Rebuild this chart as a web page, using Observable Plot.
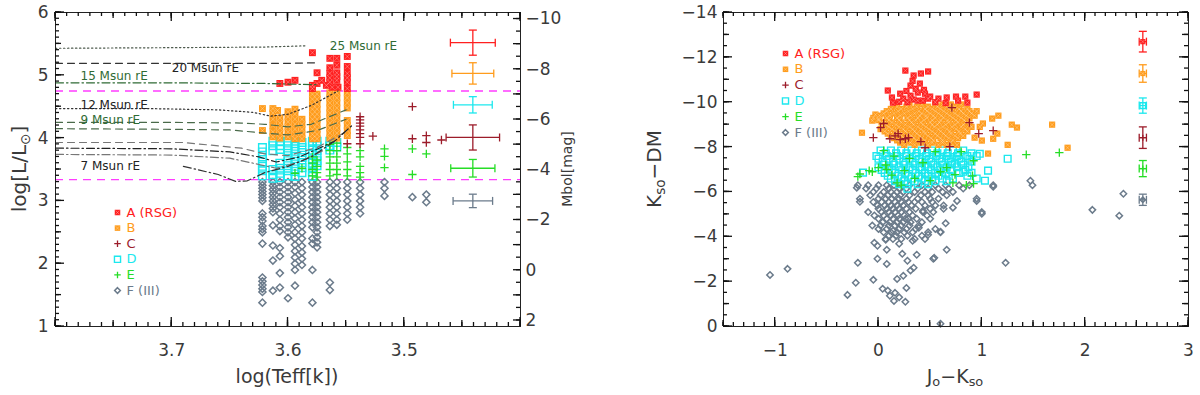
<!DOCTYPE html>
<html><head><meta charset="utf-8">
<script src="https://cdn.jsdelivr.net/npm/d3@7"></script>
<script src="https://cdn.jsdelivr.net/npm/@observablehq/plot@0.6"></script>
<style>
body{margin:0;background:#fff;}
#wrap{display:flex;width:1200px;height:395px;overflow:hidden;}
#wrap svg{display:block;flex:0 0 600px;}
</style></head><body><div id="wrap"></div>
<script>
// ---------------- DATA ----------------
const groups = ["A","B","C","D","E","F"];
const groupLabels = ["A (RSG)","B","C","D","E","F (III)"];
const COLORS = {A:"#ff2020", B:"#ff9c1c", C:"#9c1c2a", D:"#1ce8ee", E:"#26dd26", F:"#6b7b8b"};

// Left panel (HR diagram): columns [logTeff, [logL ...]]
const hrA = [
 [3.607,[4.87]],[3.600,[4.89]],[3.594,[4.92]],
 [3.579,[5.36,4.84,4.79]],[3.575,[5.04,4.87]],[3.571,[4.92]],[3.567,[4.84]],
 [3.564,[5.27,5.12,5.03,4.96,4.89]],[3.562,[4.81]],
 [3.558,[5.27,5.16,5.04,4.98,4.92]],[3.557,[4.81]],
 [3.549,[5.30,5.14,5.03,4.96,4.89,4.79]]
];
const hrB = [
 [3.622,[4.47,4.12]],
 [3.613,[4.47,4.40,4.30,4.20,4.10,4.02]],
 [3.609,[4.44]],
 [3.607,[4.32,4.24,4.16,4.08,4.00]],
 [3.600,[4.42,4.34,4.26,4.18,4.10,4.02]],
 [3.594,[4.46,4.38,4.30,4.22,4.14,4.06,3.99]],
 [3.588,[4.30,4.22,4.14,4.06,3.99]],
 [3.579,[4.70,4.62,4.54,4.46,4.38,4.30,4.22,4.14,4.06,3.99]],
 [3.575,[4.70,4.62,4.54,4.46,4.38,4.30,4.22,4.14,4.06,3.99]],
 [3.564,[4.72,4.64,4.56,4.48,4.40,4.32,4.24,4.16,4.08,4.00]],
 [3.558,[4.72,4.64,4.56,4.48,4.40,4.32,4.24,4.16,4.08,4.00]],
 [3.549,[4.72,4.64,4.56,4.48,4.28,4.20,4.12,4.04]]
];
const hrC = [
 [3.549,[3.91]],
 [3.538,[4.34,4.29,4.24,4.19,4.13,4.07,4.01,3.91]],
 [3.527,[4.03]],
 [3.493,[4.50,3.99]],
 [3.481,[4.04,3.93]],
 [3.468,[3.97]]
];
const hrD = [
 [3.622,[3.85,3.78,3.70,3.62,3.55,3.48,3.40]],
 [3.613,[3.95,3.88,3.80,3.50,3.42,3.36]],
 [3.607,[3.95,3.88,3.82,3.60,3.52,3.44,3.37]],
 [3.600,[3.95,3.88,3.80,3.72,3.64,3.56,3.48,3.40]],
 [3.594,[3.95,3.87,3.79,3.71,3.63,3.55,3.47,3.39]],
 [3.588,[3.93,3.85,3.77,3.69,3.61,3.53,3.45]],
 [3.579,[3.95,3.88,3.81,3.74,3.67,3.60,3.53,3.46,3.39]],
 [3.575,[3.95,3.88,3.80,3.72,3.64,3.56]],
 [3.564,[3.95,3.88,3.81]],
 [3.558,[3.93,3.86]]
];
const hrE = [
 [3.594,[3.44]],[3.588,[3.52]],
 [3.579,[3.70,3.60,3.50,3.40]],
 [3.575,[3.65,3.55,3.45,3.38]],
 [3.564,[3.90,3.80,3.70,3.60,3.50,3.40]],
 [3.558,[3.92,3.80,3.70,3.60,3.50,3.42]],
 [3.549,[3.85,3.75,3.62,3.50,3.40]],
 [3.538,[3.80,3.70,3.55,3.45,3.38]],
 [3.517,[3.83,3.71,3.53]],
 [3.493,[3.83,3.42]],
 [3.481,[3.75]]
];
const hrF = [
 [3.622,[3.30,3.25,3.20,3.15,3.10,3.05,3.00,2.80,2.74,2.68,2.60,2.55,2.50,2.32,1.78,1.72,1.66,1.60,1.55,1.38]],
 [3.613,[3.30,3.24,3.18,3.12,3.06,3.00,2.94,2.88,2.82,2.61,2.29,2.05,1.57]],
 [3.607,[3.30,3.22,3.14,3.06,2.98,2.90,2.80,2.70,2.60,2.52,2.25,2.12,1.85,1.62]],
 [3.600,[3.30,3.22,3.14,3.06,2.98,2.90,2.82,2.74,2.66,2.58,2.50,2.42,1.45]],
 [3.594,[3.30,3.22,3.12,3.02,2.92,2.82,2.72,2.62,2.50,2.40,2.30,2.20,2.10,2.00,1.90,1.65]],
 [3.588,[3.30,3.20,3.10,3.00,2.90,2.80,2.70,2.60,2.50,2.40,2.28,2.18,2.08,1.98]],
 [3.579,[3.30,3.22,3.14,3.06,2.98,2.90,2.82,2.74,2.66,2.58,2.40,2.32,1.90,1.38]],
 [3.575,[3.30,3.22,3.14,3.06,2.98,2.90,2.82,2.74,2.66,2.58,2.50,2.42,2.34,2.26]],
 [3.564,[3.30,3.20,3.10,3.00,2.90,2.80,2.70,2.60,1.70,1.58]],
 [3.558,[3.30,3.20,3.10,3.00,2.90,2.80,2.70,2.62]],
 [3.549,[3.30,3.20,3.10,3.00,2.90,2.80,2.70]],
 [3.538,[3.30,3.20,3.10,3.00,2.90,2.80]],
 [3.517,[3.30,3.20,3.08]],
 [3.493,[3.06]],
 [3.481,[3.10,2.98]]
];

// evolutionary tracks [logTeff, logL]
const track25 = [[3.80,5.43],[3.70,5.44],[3.62,5.45],[3.584,5.47]];
const track20 = [[3.80,5.19],[3.70,5.19],[3.60,5.19],[3.574,5.20]];
const track15 = [[3.80,4.88],[3.70,4.88],[3.62,4.87],[3.60,4.86],[3.575,4.85]];
const track12 = [[3.80,4.47],[3.72,4.47],[3.66,4.45],[3.63,4.41],[3.615,4.35],[3.60,4.38],[3.58,4.52],[3.557,4.75]];
const track9a = [[3.80,4.25],[3.70,4.25],[3.64,4.24],[3.62,4.22],[3.60,4.18],[3.58,4.22],[3.55,4.45]];
const track9b = [[3.80,4.15],[3.70,4.14],[3.65,4.13],[3.62,4.08],[3.60,4.05],[3.575,4.12],[3.55,4.30]];
const track8a = [[3.80,3.93],[3.69,3.93],[3.64,3.84],[3.62,3.75],[3.60,3.72],[3.575,3.85],[3.55,4.10]];
const track8b = [[3.80,3.84],[3.70,3.83],[3.65,3.78],[3.625,3.70],[3.61,3.62],[3.59,3.70],[3.56,3.95],[3.545,4.20]];
const track8c = [[3.80,3.74],[3.70,3.73],[3.65,3.68],[3.625,3.58],[3.61,3.52],[3.59,3.62],[3.57,3.80]];
const track7 = [[3.69,3.55],[3.66,3.42],[3.645,3.31],[3.635,3.32],[3.62,3.45],[3.60,3.55],[3.58,3.70],[3.56,3.95]];
const trackLabelText = ["25 Msun rE","20 Msun rE","15 Msun rE","12 Msun rE","9 Msun rE","7 Msun rE"];
const trackLabelT = [3.564,3.700,3.7785,3.7785,3.7785,3.7785];
const trackLabelL = [5.47,5.12,4.98,4.52,4.28,3.56];
const trackLabelColor = ["#2f6b35","#222","#2f6b35","#222","#2f6b35","#222"];
const magentaLevels = [4.75, 3.34];

// HR error bars
const hrErrGroup = ["A","B","D","C","E","F"];
const hrErrLogT = 3.441;
const hrErrLogL = [5.52,5.03,4.53,4.01,3.52,3.00];
const hrErrDT = [0.0193,0.018,0.0167,0.023,0.019,0.017];
const hrErrDL = [0.20,0.17,0.13,0.20,0.14,0.107];

// Right panel (colour-magnitude): pairs [J0-Ks0, Ks0-DM]
const cmdA = [[0.26,-11.41],[0.34,-11.19],[0.41,-11.28],[0.48,-11.37],[0.31,-10.74],[0.40,-10.83],[0.09,-10.52],[0.21,-10.38],[0.13,-10.21],[0.31,-10.29],[0.38,-10.43],[0.45,-10.38],[0.50,-10.25],[0.24,-10.16],[0.34,-10.12],[0.43,-10.07],[0.48,-10.16],[0.58,-10.16],[0.66,-10.21],[0.75,-10.25],[0.84,-10.25],[0.95,-10.34],[0.86,-9.98],[0.77,-10.07],[0.14,-9.98],[0.38,-10.07],[0.36,-10.60],[0.28,-10.00],[0.44,-10.55],[0.20,-10.02],[0.55,-10.00],[0.65,-9.96],[0.33,-10.95],[0.27,-10.50]];
// orange blob rows [Ks0-DM, [J0-Ks0 ...]]
const cmdBrows = [
 [-9.9,[0.30,0.42,0.55,0.62,0.70,0.80]],
 [-9.8,[0.18,0.27,0.37,0.48,0.57,0.66,0.74]],
 [-9.7,[0.12,0.22,0.33,0.45,0.52,0.60,0.68,0.78,0.86]],
 [-9.6,[0.08,0.19,0.29,0.39,0.47,0.55,0.63,0.71,0.80,0.88]],
 [-9.5,[0.05,0.15,0.25,0.35,0.42,0.50,0.58,0.66,0.74,0.82,0.90]],
 [-9.4,[0.01,0.11,0.21,0.31,0.40,0.46,0.53,0.61,0.69,0.77,0.85,0.93]],
 [-9.3,[-0.05,0.08,0.18,0.28,0.38,0.47,0.55,0.63,0.72,0.80,0.88]],
 [-9.2,[0.00,0.10,0.20,0.30,0.36,0.44,0.52,0.60,0.67,0.75,0.83]],
 [-9.1,[0.03,0.13,0.22,0.32,0.41,0.50,0.59,0.68,0.77,0.85]],
 [-9.0,[0.07,0.17,0.26,0.34,0.43,0.52,0.57,0.65,0.74,0.82,0.88]],
 [-8.9,[0.10,0.20,0.30,0.38,0.46,0.54,0.62,0.71,0.80,0.90]],
 [-8.8,[0.02,0.13,0.24,0.33,0.41,0.49,0.58,0.66,0.75,0.84]],
 [-8.7,[0.06,0.16,0.26,0.35,0.44,0.52,0.60,0.69,0.78,0.86]],
 [-8.6,[0.09,0.19,0.29,0.37,0.45,0.55,0.63,0.70,0.79]],
 [-8.5,[0.12,0.22,0.32,0.40,0.48,0.57,0.65,0.74,0.82]],
 [-8.4,[0.15,0.25,0.34,0.42,0.51,0.60,0.68,0.77]],
 [-8.3,[0.18,0.28,0.37,0.45,0.53,0.62,0.72]],
 [-8.2,[0.21,0.31,0.41,0.52,0.62,0.70]],
 [-8.1,[0.25,0.35,0.48,0.58,0.66,0.76]]
];
const cmdBextra = [[-0.06,-9.18],[-0.16,-8.64],[0.0,-9.25],[-0.03,-9.45],[1.01,-9.05],[1.10,-9.27],[1.16,-9.40],[1.29,-9.00],[1.34,-8.87],[1.68,-9.00],[1.83,-7.97],[1.06,-7.71],[1.25,-8.10],[0.93,-8.42],[1.00,-8.29],[1.11,-8.37],[1.15,-8.60],[0.95,-9.60],[0.98,-8.90]];
const cmdC = [[0.71,-9.76],[0.88,-9.09],[0.02,-8.87],[0.05,-9.05],[-0.05,-8.42],[0.11,-8.37],[0.19,-8.60],[0.21,-8.33],[0.29,-8.42],[0.41,-8.24],[0.45,-7.97],[0.69,-8.02],[0.97,-8.60],[1.11,-8.73],[0.26,-8.37],[0.16,-8.50]];
const cmdDrows = [
 [-7.85,[0.02,0.12,0.22,0.32,0.42,0.52,0.62,0.72,0.82]],
 [-7.72,[0.07,0.17,0.27,0.37,0.47,0.57,0.67,0.77,0.90]],
 [-7.6,[-0.02,0.08,0.18,0.27,0.36,0.46,0.56,0.66,0.76,0.86,0.95]],
 [-7.48,[0.00,0.10,0.20,0.30,0.39,0.49,0.59,0.68,0.78,0.88]],
 [-7.35,[0.04,0.14,0.24,0.33,0.42,0.51,0.61,0.70,0.80,0.90]],
 [-7.22,[0.05,0.15,0.25,0.35,0.45,0.53,0.62,0.71,0.82]],
 [-7.1,[0.00,0.10,0.20,0.30,0.40,0.48,0.57,0.66,0.76,0.87]],
 [-6.98,[0.03,0.13,0.23,0.33,0.42,0.51,0.60,0.70,0.84]],
 [-6.85,[0.06,0.16,0.26,0.36,0.45,0.55,0.65,0.78,0.90]],
 [-6.72,[0.09,0.19,0.29,0.39,0.48,0.58,0.68,0.86]],
 [-6.6,[0.12,0.22,0.32,0.42,0.52,0.62,0.72]],
 [-6.48,[0.16,0.25,0.35,0.45,0.55,0.66]],
 [-6.35,[0.20,0.28,0.38,0.48]]
];
const cmdDextra = [[1.25,-7.48],[1.06,-6.95],[1.03,-6.50],[-0.15,-6.86],[0.28,-6.14],[0.82,-6.90],[0.74,-7.26],[0.98,-7.70],[0.95,-6.60]];
const cmdE = [[-0.20,-6.68],[-0.06,-6.90],[0.00,-7.08],[0.07,-7.20],[0.05,-7.84],[0.13,-6.75],[0.43,-7.30],[0.66,-7.08],[0.74,-6.77],[0.92,-7.39],[0.91,-6.72],[0.92,-6.37],[1.43,-7.66],[1.75,-7.75],[-0.18,-6.80],[-0.09,-6.95],[0.08,-7.00],[0.18,-6.40],[0.22,-6.30],[0.72,-6.40],[0.85,-6.30],[0.30,-7.50],[0.55,-7.80],[0.35,-6.60],[0.60,-6.90],[0.15,-7.60],[0.80,-7.80],[0.50,-6.50],[0.25,-6.95]];
const cmdFrows = [
 [-6.3,[-0.20,-0.10,0.00,0.08,0.15,0.30,0.42,0.55,0.65,0.78,0.88,1.11,1.49]],
 [-6.15,[-0.12,-0.02,0.10,0.20,0.27,0.38,0.48,0.58,0.68,0.82]],
 [-6.0,[-0.05,0.05,0.12,0.18,0.24,0.35,0.45,0.52,0.62,0.72]],
 [-5.85,[-0.08,0.02,0.09,0.15,0.21,0.30,0.41,0.48,0.66]],
 [-5.7,[-0.18,0.00,0.07,0.13,0.20,0.27,0.38,0.50,0.58,0.95]],
 [-5.55,[-0.05,0.03,0.10,0.16,0.22,0.29,0.35,0.42,0.52]],
 [-5.4,[-0.01,0.06,0.12,0.18,0.24,0.32,0.45,0.55,0.63]],
 [-5.25,[0.00,0.08,0.14,0.20,0.27,0.36,0.50]],
 [-5.1,[-0.10,0.03,0.10,0.16,0.22,0.30,0.43,0.53,1.00]],
 [-4.95,[-0.04,0.05,0.12,0.19,0.25,0.33,0.47]],
 [-4.8,[0.00,0.08,0.14,0.20,0.26,0.29,0.37,0.50]],
 [-4.65,[0.04,0.11,0.18,0.24,0.31,0.42]],
 [-4.5,[-0.06,0.02,0.10,0.16,0.22,0.30,0.39]],
 [-4.35,[0.00,0.08,0.20,0.27,0.36,0.55]],
 [-4.2,[0.05,0.12,0.18,0.25,0.33,0.48,0.60]],
 [-4.05,[0.10,0.17,0.28,0.42]],
 [-3.9,[0.07,0.14,0.22,0.35,0.45]]
];
const cmdFextra = [[-0.30,-1.41],[-0.22,-1.95],[-0.20,-2.84],[-0.21,-6.19],[-0.18,-5.56],[-0.05,-2.08],[-0.01,-3.02],[0.08,-2.79],[0.04,-1.68],[0.11,-1.37],[0.15,-1.14],[0.26,-1.10],[0.18,-2.12],[0.24,-2.26],[0.27,-1.72],[0.23,-3.24],[0.28,-2.93],[0.34,-2.62],[0.37,-3.20],[0.53,-3.02],[0.66,-3.42],[0.60,-4.22],[0.48,-4.09],[0.39,-4.40],[0.33,-3.82],[0.20,-3.69],[0.08,-3.42],[-0.01,-3.60],[-0.04,-3.73],[0.07,-3.87],[0.14,-4.27],[0.76,-5.60],[0.95,-5.60],[1.00,-5.03],[1.23,-2.84],[2.07,-5.20],[2.33,-4.94],[2.37,-5.92],[0.60,-0.12],[0.54,-3.06],[0.31,-2.50],[0.16,-1.50],[0.20,-1.30],[0.09,-1.60],[0.65,-4.60],[0.72,-5.30],[-1.05,-2.30],[-0.88,-2.57],[1.47,-6.50],[1.11,-6.23],[0.43,-5.16],[0.63,-5.25]];

// CMD error bars
const cmdErrGroup = ["A","B","D","C","E","F"];
const cmdErrColor = 2.558;
const cmdErrMag = [-12.70,-11.28,-9.85,-8.42,-7.04,-5.65];
const cmdErrDM = [0.46,0.39,0.34,0.48,0.36,0.25];
const cmdErrDC = [0.035,0.035,0.035,0.035,0.035,0.035];

// tick labels
const hrXLabels = [3.7,3.6,3.5];
const hrYLabels = [1,2,3,4,5,6];
const mbolLabels = [-10,-8,-6,-4,-2,0,2];
const cmdXLabels = [-1,0,1,2,3];
const cmdYLabels = [-14,-12,-10,-8,-6,-4,-2,0];

// ---------------- HELPERS ----------------
const FONT = "DejaVu Sans";
const TXT = "#3a3a3a";
const fromCols = cols => cols.flatMap(([x, ys]) => ys.map(y => ({x, y})));
const fromRows = rows => rows.flatMap(([y, xs]) => xs.map(x => ({x, y})));
const fromPairs = ps => ps.map(([x, y]) => ({x, y}));
const fmtInt = d => { const r = Math.round(d); return r < 0 ? "\u2212" + (-r) : String(r); };
const range = (a, b, s) => d3.range(Math.round(a / s), Math.round(b / s) + 1).map(i => +(i * s).toFixed(4));

const capV = {draw(ctx, size) { const r = Math.sqrt(size / Math.PI); ctx.moveTo(0, -r); ctx.lineTo(0, r); }};
const capH = {draw(ctx, size) { const r = Math.sqrt(size / Math.PI); ctx.moveTo(-r, 0); ctx.lineTo(r, 0); }};

function groupMarks(data, g, s, extra = {}) {
  const c = COLORS[g];
  const pos = data ? {x: "x", y: "y"} : {};
  const d = data || [0];
  if (g === "A" || g === "B") return [
    Plot.dot(d, {...pos, ...extra, symbol: "square", fill: c, r: 3.9 * s}),
    Plot.dot(d, {...pos, ...extra, symbol: "times", stroke: "#fff", strokeOpacity: 0.35, strokeWidth: 0.8, r: 2.4 * s})
  ];
  if (g === "C" || g === "E") return [Plot.dot(d, {...pos, ...extra, symbol: "plus", stroke: c, strokeWidth: 1.3, r: 2.8 * s})];
  if (g === "D") return [Plot.dot(d, {...pos, ...extra, symbol: "square", fill: "none", stroke: c, strokeWidth: 1.4, r: 4.3 * s})];
  return [Plot.dot(d, {...pos, ...extra, symbol: "diamond2", fill: "none", stroke: c, strokeWidth: 1.5, r: 3.2 * s})];
}

function legendMarks(s, dx0, dy0, step) {
  return groups.flatMap((g, i) => [
    ...groupMarks(null, g, s, {frameAnchor: "top-left", dx: dx0, dy: dy0 + i * step}),
    Plot.text([groupLabels[i]], {frameAnchor: "top-left", dx: dx0 + 9, dy: dy0 + i * step, text: d => d, fill: COLORS[g], textAnchor: "start", lineAnchor: "middle", fontSize: 13, fontFamily: FONT})
  ]);
}

function errMarks(rows, symbolScale, withCenter) {
  return rows.flatMap(r => {
    const c = COLORS[r.g];
    const m = [
      Plot.link([r], {x1: d => d.x - d.dx, x2: d => d.x + d.dx, y1: "y", y2: "y", stroke: c, strokeWidth: 1.3}),
      Plot.link([r], {x1: "x", x2: "x", y1: d => d.y - d.dy, y2: d => d.y + d.dy, stroke: c, strokeWidth: 1.3}),
      Plot.dot([r], {x: d => d.x - d.dx, y: "y", symbol: capV, r: 4, stroke: c, strokeWidth: 1.3}),
      Plot.dot([r], {x: d => d.x + d.dx, y: "y", symbol: capV, r: 4, stroke: c, strokeWidth: 1.3}),
      Plot.dot([r], {x: "x", y: d => d.y - d.dy, symbol: capH, r: 4, stroke: c, strokeWidth: 1.3}),
      Plot.dot([r], {x: "x", y: d => d.y + d.dy, symbol: capH, r: 4, stroke: c, strokeWidth: 1.3})
    ];
    if (withCenter) m.push(...groupMarks([r], r.g, symbolScale));
    return m;
  });
}

// inward ticks on the box, positioned with the plot's own x and y scales
function drawBoxTicks(svg, xSets, ySets) {
  const sx = svg.scale("x"), sy = svg.scale("y");
  const [xl, xr] = sx.range, [yb, yt] = sy.range;
  const g = d3.select(svg).append("g").attr("stroke", "#111").attr("stroke-width", 1.3).attr("fill", "none");
  for (const [ticks, L] of xSets) for (const t of ticks) {
    const p = sx.apply(t);
    g.append("line").attr("x1", p).attr("x2", p).attr("y1", yb).attr("y2", yb - L);
    g.append("line").attr("x1", p).attr("x2", p).attr("y1", yt).attr("y2", yt + L);
  }
  for (const [ticks, L, sides] of ySets) for (const t of ticks) {
    const p = sy.apply(t);
    if (sides.includes("l")) g.append("line").attr("x1", xl).attr("x2", xl + L).attr("y1", p).attr("y2", p);
    if (sides.includes("r")) g.append("line").attr("x1", xr).attr("x2", xr - L).attr("y1", p).attr("y2", p);
  }
}

function addLabel(svg, x, y, parts, size, rotate) {
  const t = d3.select(svg).append("text")
    .attr("font-family", FONT).attr("font-size", size).attr("fill", TXT)
    .attr("text-anchor", "middle").attr("dominant-baseline", "middle")
    .attr("transform", `translate(${x},${y})` + (rotate ? " rotate(-90)" : ""));
  let shifted = false;
  for (const p of parts) {
    const sp = t.append("tspan").text(p.t);
    if (p.sub) { sp.attr("font-size", size * 0.68).attr("dy", size * 0.28); shifted = true; }
    else if (shifted) { sp.attr("dy", -size * 0.28); shifted = false; }
  }
}

// ---------------- LEFT PANEL ----------------
const toL = m => (4.74 - m) / 2.5;
const hrErrRows = hrErrGroup.map((g, i) => ({g, x: hrErrLogT, y: hrErrLogL[i], dx: hrErrDT[i], dy: hrErrDL[i]}));
const trackStyle = [
  [track25, "#4d5a4d", "1.4,2.6"], [track20, "#333", "7,5"], [track15, "#2f6b35", "8,3,1.5,3"],
  [track12, "#333", "1.4,2.6"], [track9a, "#4a6a4a", "7,5"], [track9b, "#4a6a4a", "7,5"],
  [track8a, "#777", "7,5"], [track8b, "#222", "8,3,1.5,3"], [track8c, "#777", "8,3,1.5,3"], [track7, "#333", "8,3,1.5,3"]
];
const trackLabels = trackLabelText.map((t, i) => ({t, x: trackLabelT[i], y: trackLabelL[i], c: trackLabelColor[i]}));

const left = Plot.plot({
  width: 600, height: 395,
  marginLeft: 55, marginRight: 80, marginTop: 12, marginBottom: 69,
  style: {fontFamily: FONT, background: "white", color: TXT},
  x: {domain: [3.8, 3.4]},
  y: {domain: [1, 6]},
  marks: [
    Plot.ruleY(magentaLevels, {stroke: "#ff3cff", strokeDasharray: "8,6", strokeWidth: 1.3}),
    ...groupMarks(fromCols(hrF), "F", 1),
    ...groupMarks(fromCols(hrD), "D", 1),
    ...groupMarks(fromCols(hrE), "E", 1),
    ...groupMarks(fromCols(hrB), "B", 1),
    ...groupMarks(fromCols(hrA), "A", 1),
    ...groupMarks(fromCols(hrC), "C", 1),
    ...trackStyle.map(([tr, c, dash]) => Plot.line(tr, {x: d => d[0], y: d => d[1], stroke: c, strokeWidth: 1.2, strokeDasharray: dash})),
    ...trackLabels.map(l => Plot.text([l], {x: "x", y: "y", text: "t", fill: l.c, textAnchor: "start", fontSize: 12, fontFamily: FONT})),
    ...errMarks(hrErrRows, 1, false),
    ...legendMarks(0.8, 62, 200, 15.6),
    Plot.frame({stroke: "#222"}),
    Plot.axisX(hrXLabels, {anchor: "bottom", tickSize: 0, tickPadding: 17, fontSize: 17, fill: TXT, label: null, tickFormat: d => d.toFixed(1)}),
    Plot.axisY(hrYLabels, {anchor: "left", tickSize: 0, tickPadding: 7, fontSize: 17, fill: TXT, label: null, tickFormat: fmtInt}),
    Plot.axisY(mbolLabels.map(toL), {anchor: "right", tickSize: 0, tickPadding: 5, fontSize: 17, fill: TXT, label: null, tickFormat: v => fmtInt(4.74 - 2.5 * v)})
  ]
});

// ---------------- RIGHT PANEL ----------------
const cmdErrRows = cmdErrGroup.map((g, i) => ({g, x: cmdErrColor, y: cmdErrMag[i], dx: cmdErrDC[i], dy: cmdErrDM[i]}));
const right = Plot.plot({
  width: 600, height: 395,
  marginLeft: 123, marginRight: 12, marginTop: 12, marginBottom: 69,
  style: {fontFamily: FONT, background: "white", color: TXT},
  x: {domain: [-1.5, 3]},
  y: {domain: [0, -14]},
  marks: [
    ...groupMarks([...fromRows(cmdFrows), ...fromPairs(cmdFextra)], "F", 0.9),
    ...groupMarks([...fromRows(cmdDrows), ...fromPairs(cmdDextra)], "D", 0.88),
    ...groupMarks(fromPairs(cmdE), "E", 1),
    ...groupMarks([...fromRows(cmdBrows), ...fromPairs(cmdBextra)], "B", 0.9),
    ...groupMarks(fromPairs(cmdA), "A", 0.9),
    ...groupMarks(fromPairs(cmdC), "C", 1),
    ...errMarks(cmdErrRows, 0.75, true),
    ...legendMarks(0.8, 62, 41, 15.8),
    Plot.frame({stroke: "#222"}),
    Plot.axisX(cmdXLabels, {anchor: "bottom", tickSize: 0, tickPadding: 17, fontSize: 17, fill: TXT, label: null, tickFormat: fmtInt}),
    Plot.axisY(cmdYLabels, {anchor: "left", tickSize: 0, tickPadding: 6, fontSize: 17, fill: TXT, label: null, tickFormat: fmtInt})
  ]
});

const wrap = document.getElementById("wrap");
wrap.appendChild(left);
wrap.appendChild(right);

drawBoxTicks(left,
  [[range(3.4, 3.8, 0.01), 4], [range(3.4, 3.8, 0.05), 6], [range(3.4, 3.8, 0.1), 9]],
  [[range(1, 6, 0.1), 4, "l"], [range(1, 6, 0.5), 6, "l"], [range(1, 6, 1), 9, "l"],
   [range(-10, 2, 0.5).map(toL), 4, "r"], [range(-10, 2, 1).map(toL), 7, "r"]]);
drawBoxTicks(right,
  [[range(-1.5, 3, 0.1), 4], [range(-1.5, 3, 0.5), 6], [range(-1.5, 3, 1), 9]],
  [[range(-14, 0, 0.5), 4, "lr"], [range(-14, 0, 1), 6, "lr"], [range(-14, 0, 2), 9, "lr"]]);

addLabel(left, 20, 169, [{t: "log[L/L"}, {t: "\u2299", sub: true}, {t: "]"}], 20, true);
addLabel(left, 287, 377, [{t: "log(Teff[k])"}], 19, false);
addLabel(left, 568, 169, [{t: "Mbol[mag]"}], 14, true);
addLabel(right, 55, 169, [{t: "K"}, {t: "so", sub: true}, {t: "\u2212DM"}], 20, true);
addLabel(right, 355, 377, [{t: "J"}, {t: "o", sub: true}, {t: "\u2212K"}, {t: "so", sub: true}], 19, false);
</script></body></html>
